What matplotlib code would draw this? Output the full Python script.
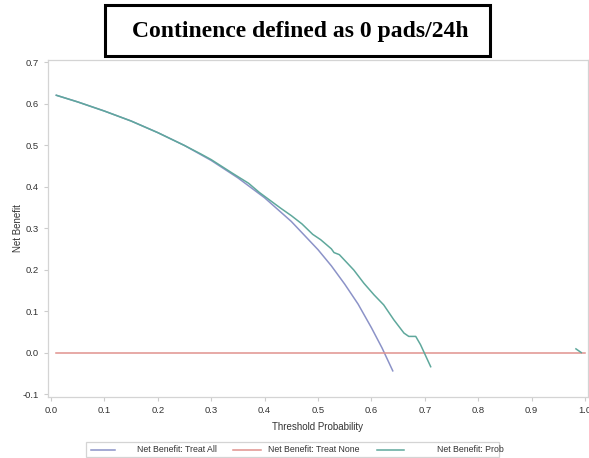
import numpy as np
import matplotlib; matplotlib.use("Agg")
import matplotlib.pyplot as plt
from matplotlib.lines import Line2D
from matplotlib.patches import Rectangle

# threshold probabilities and net benefit
t_all=[0.01,0.05,0.10,0.15,0.20,0.25,0.30,0.35,0.40,0.45,0.50,0.525,0.55,0.575,0.60,0.62,0.64]
nb_all=[0.620,0.604,0.582,0.558,0.530,0.499,0.463,0.421,0.373,0.316,0.248,0.209,0.165,0.117,0.060,0.011,-0.044]

t_none=[0.01,1.0]
nb_none=[0.0,0.0]

t_prob=[0.01,0.05,0.10,0.15,0.20,0.25,0.28,0.30,0.34,0.37,0.39,0.43,0.45,0.47,0.49,0.505,0.525,
        0.53,0.54,0.567,0.586,0.605,0.623,0.642,0.661,0.670,0.683,0.692,0.711,
        np.nan,0.983,0.993]
nb_prob=[0.620,0.604,0.582,0.558,0.530,0.499,0.479,0.465,0.432,0.408,0.386,0.348,0.330,0.310,0.285,0.272,0.250,
         0.241,0.236,0.199,0.167,0.139,0.115,0.079,0.047,0.039,0.039,0.019,-0.034,
         np.nan,0.009,0.0]

labels=["Net Benefit: Treat All","Net Benefit: Treat None","Net Benefit: Prob"]
colors=["#8c93c8","#e0928e","#5fa89c"]

plt.rcParams["font.family"]=["Liberation Sans","DejaVu Sans"]
W,H=589,458
fig=plt.figure(figsize=(W/100,H/100),dpi=100)
ax=fig.add_axes([48/W,(H-397)/H,540/W,337/H])

ax.plot(t_all,nb_all,color=colors[0],lw=1.1)
ax.plot(t_none,nb_none,color=colors[1],lw=1.1)
ax.plot(t_prob,nb_prob,color=colors[2],lw=1.1)

ax.set_xlim(-0.0056,1.0056); ax.set_ylim(-0.107,0.705)
ax.set_xticks(np.arange(0,1.01,0.1)); ax.set_yticks(np.arange(-0.1,0.71,0.1))
ax.xaxis.set_major_formatter(matplotlib.ticker.FormatStrFormatter("%.1f"))
ax.yaxis.set_major_formatter(matplotlib.ticker.FormatStrFormatter("%.1f"))
ax.tick_params(labelsize=6.8,colors="#cccccc",labelcolor="#333333",length=3,width=0.8)
for s in ax.spines.values(): s.set_color("#d4d4d4"); s.set_linewidth(0.9)
ax.set_xlabel("Threshold Probability",fontsize=7,color="#333333",labelpad=5)
ax.set_ylabel("Net Benefit",fontsize=7,color="#333333",labelpad=0)

# legend box drawn by hand, SAS style
fig.patches.append(Rectangle((86/W,(H-457)/H),413/W,15/H,transform=fig.transFigure,
                             fill=False,edgecolor="#d4d4d4",lw=0.9))
yl=(H-450)/H
for (x0,x1,tx,ha),c,lab in zip([(91,115,137,"left"),(233,261,268,"left"),(377,404,504,"right")],colors,labels):
    fig.lines.append(Line2D([x0/W,x1/W],[yl,yl],transform=fig.transFigure,color=c,lw=1.1))
    fig.text(tx/W,yl,lab,ha=ha,va="center",fontsize=6.3,color="#333333")

# boxed title
fig.patches.append(Rectangle((105/W,(H-56)/H),385/W,51/H,transform=fig.transFigure,
                             facecolor="white",edgecolor="black",lw=2.2,zorder=5))
fig.text(300/W,(H-32)/H,"Continence defined as 0 pads/24h",ha="center",va="center",
         fontsize=17,fontweight="bold",family="Liberation Serif",zorder=6)

fig.savefig("out.png",dpi=100)
